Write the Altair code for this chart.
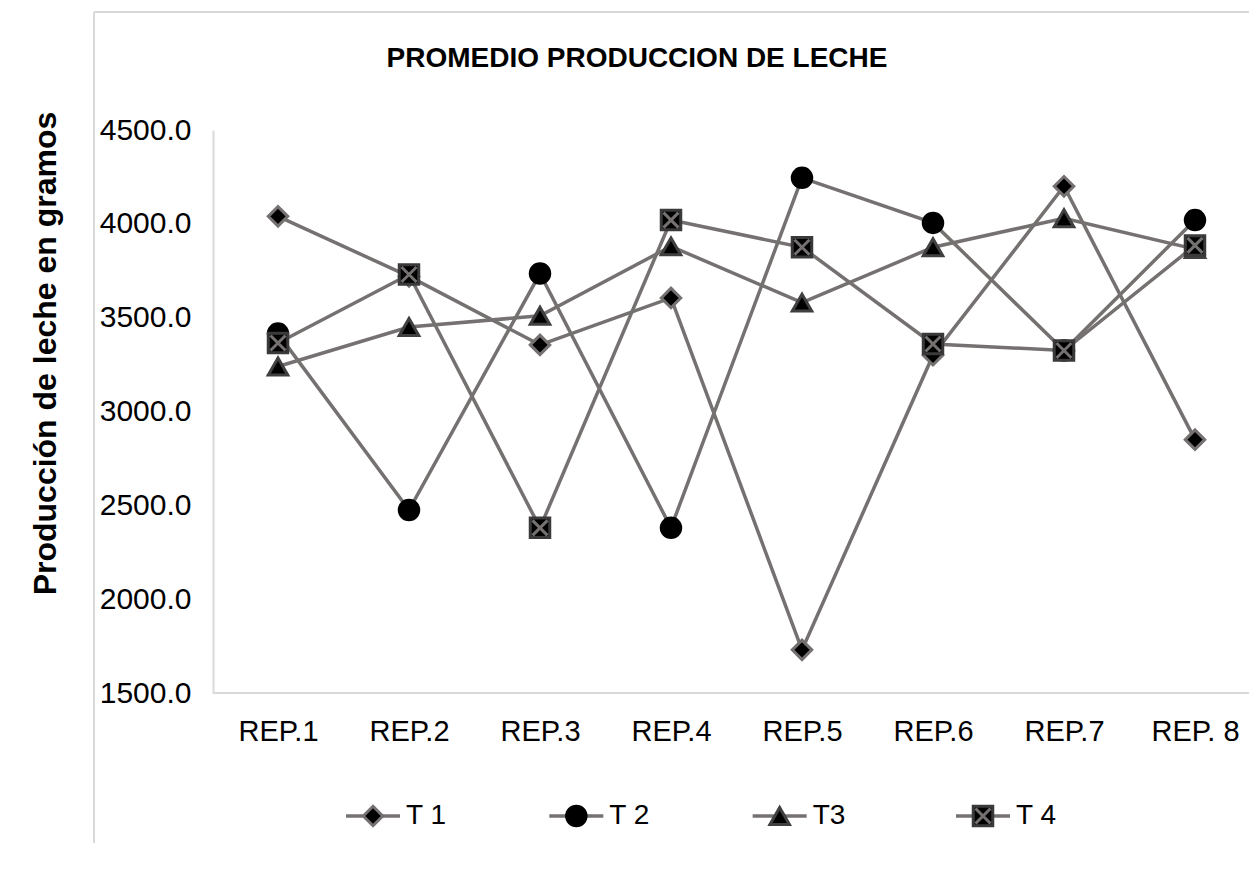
import altair as alt
import pandas as pd

reps = ["REP.1", "REP.2", "REP.3", "REP.4", "REP.5", "REP.6", "REP.7", "REP. 8"]
series = ["T 1", "T 2", "T3", "T 4"]
t1 = [4040, 3720, 3355, 3605, 1730, 3300, 4200, 2850]
t2 = [3415, 2475, 3735, 2380, 4245, 4005, 3325, 4020]
t3 = [3240, 3450, 3510, 3880, 3580, 3875, 4030, 3865]
t4 = [3365, 3730, 2380, 4020, 3875, 3360, 3325, 3885]
y_ticks = [1500, 2000, 2500, 3000, 3500, 4000, 4500]

rows = []
for s, vals in zip(series, [t1, t2, t3, t4]):
    for i, (r, v) in enumerate(zip(reps, vals)):
        rows.append({"rep": r, "serie": s, "valor": v, "idx": i})
df = pd.DataFrame(rows)
legend_df = pd.DataFrame({"serie": series})

FONT = "Liberation Sans"
LINE = "#767171"
BORDER = "#d9d9d9"

shape_scale = alt.Scale(domain=series, range=["diamond", "circle", "triangle-up", "square"])
fill_scale = alt.Scale(domain=series, range=["black", "black", "black", "black"])
stroke_scale = alt.Scale(domain=series, range=[LINE, "black", "#404040", "#3a3a3a"])
size_scale = alt.Scale(domain=series, range=[380, 380, 420, 400])
XPATH = "M-0.75,-0.75L0.75,0.75M0.75,-0.75L-0.75,0.75"

W, H = 1036, 563

x_main = alt.X(
    "rep:N", sort=reps,
    scale=alt.Scale(type="point", domain=reps, range=[65, 982], padding=0),
    axis=alt.Axis(title=None, labelAngle=0, labelFont=FONT, labelFontSize=29,
                  labelColor="black", labelPadding=24, ticks=False,
                  domain=False, grid=False),
)
y_main = alt.Y(
    "valor:Q",
    scale=alt.Scale(domain=[1500, 4500], nice=False, zero=False),
    axis=alt.Axis(values=y_ticks, format=".1f", title="Producción de leche en gramos",
                  titleFont=FONT, titleFontSize=32, titleFontWeight="bold", titleColor="black",
                  titleAngle=270, titleX=-168, titleY=223, titleAlign="center",
                  titleBaseline="middle",
                  labelFont=FONT, labelFontSize=30, labelColor="black", labelPadding=22,
                  ticks=False, grid=False, domainColor=BORDER, domainWidth=2),
)

base = alt.Chart(df)
lines = base.mark_line(color=LINE, strokeWidth=3.5).encode(
    x=x_main, y=y_main, detail="serie:N", order=alt.Order("idx:Q"))

enc_common = dict(
    shape=alt.Shape("serie:N", scale=shape_scale, legend=None),
    fill=alt.Fill("serie:N", scale=fill_scale, legend=None),
    stroke=alt.Stroke("serie:N", scale=stroke_scale, legend=None),
    size=alt.Size("serie:N", scale=size_scale, legend=None),
)
points = base.mark_point(filled=True, opacity=1, strokeWidth=3).encode(
    x=x_main, y=y_main, **enc_common)
xmarks = base.transform_filter(alt.datum.serie == "T 4").mark_point(
    shape=XPATH, stroke=LINE, strokeWidth=3, size=400, fill="transparent", opacity=1
).encode(x=x_main, y=y_main)

frame_data = alt.Data(values=[{"k": 0}])
left_border = alt.Chart(frame_data).mark_rule(color=BORDER, strokeWidth=2).encode(
    x=alt.value(-119), y=alt.value(-118), y2=alt.value(715))
top_border = alt.Chart(frame_data).mark_rule(color=BORDER, strokeWidth=2).encode(
    x=alt.value(-119), x2=alt.value(W + 14), y=alt.value(-118))
x_domain = alt.Chart(frame_data).mark_rule(color=BORDER, strokeWidth=2).encode(
    x=alt.value(0), x2=alt.value(W), y=alt.value(H))

main = alt.layer(left_border, top_border, x_domain, lines, points, xmarks)

LY = 686
x_leg = alt.X("serie:N", sort=series,
              scale=alt.Scale(type="point", domain=series, range=[160, 770], padding=0),
              axis=None)
lbase = alt.Chart(legend_df)
leg_line = lbase.mark_rule(color=LINE, strokeWidth=3.5, xOffset=-27, x2Offset=27).encode(
    x=x_leg, x2=alt.X2("serie:N"), y=alt.value(LY))
leg_pts = lbase.mark_point(filled=True, opacity=1, strokeWidth=3).encode(
    x=x_leg, y=alt.value(LY), **enc_common)
leg_x = lbase.transform_filter(alt.datum.serie == "T 4").mark_point(
    shape=XPATH, stroke=LINE, strokeWidth=3, size=400, fill="transparent", opacity=1).encode(
    x=x_leg, y=alt.value(LY))
leg_txt = lbase.mark_text(align="left", baseline="middle", dx=33, font=FONT,
                          fontSize=28, color="black").encode(
    x=x_leg, y=alt.value(LY), text="serie:N")
legend = alt.layer(leg_line, leg_pts, leg_x, leg_txt)

chart = alt.layer(main, legend).resolve_scale(x="independent").properties(
    width=W, height=H,
    title=alt.TitleParams("PROMEDIO PRODUCCION DE LECHE", font=FONT, fontSize=28,
                          fontWeight="bold", color="black", anchor="middle",
                          dx=-94, offset=-62),
    autosize=alt.AutoSizeParams(type="none"),
    padding={"left": 205, "top": 122, "right": 0, "bottom": 150},
    background="white",
).configure_view(stroke=None, strokeWidth=0)

chart.save("out.html", embed_options={"renderer": "svg", "actions": False})
